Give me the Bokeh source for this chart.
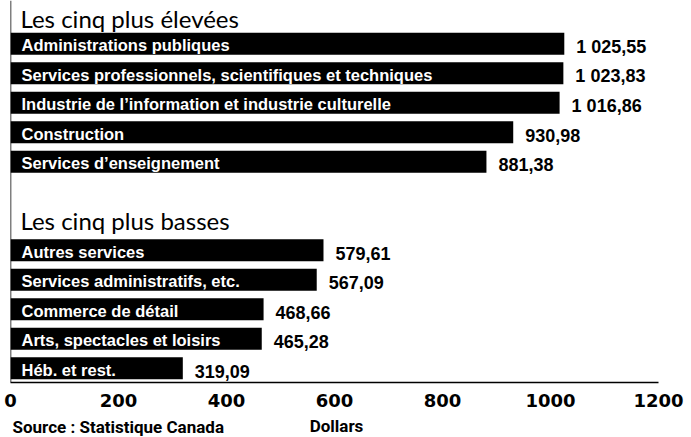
from bokeh.plotting import figure
from bokeh.layouts import column
from bokeh.models import Range1d, Span, FixedTicker, ColumnDataSource
from bokeh.core.properties import value
from bokeh.embed import file_html
from bokeh.resources import INLINE

# ---- data ----
top_cats = [
    "Administrations publiques",
    "Services professionnels, scientifiques et techniques",
    "Industrie de l\u2019information et industrie culturelle",
    "Construction",
    "Services d\u2019enseignement",
]
top_vals = [1025.55, 1023.83, 1016.86, 930.98, 881.38]

bottom_cats = [
    "Autres services",
    "Services administratifs, etc.",
    "Commerce de d\u00e9tail",
    "Arts, spectacles et loisirs",
    "H\u00e9b. et rest.",
]
bottom_vals = [579.61, 567.09, 468.66, 465.28, 319.09]

heading_top = "Les cinq plus \u00e9lev\u00e9es"
heading_bottom = "Les cinq plus basses"
x_ticks = [0, 200, 400, 600, 800, 1000, 1200]
x_min, x_max = 0, 1200
x_title = "Dollars"
source_text = "Source : Statistique Canada"


def fr(v):
    s = f"{v:,.2f}"
    return s.replace(",", " ").replace(".", ",")


# row layout (top group rows 1..5, bottom group rows 8..12)
rows_top = [1 + i for i in range(len(top_vals))]
rows_bottom = [8 + i for i in range(len(bottom_vals))]

cats = top_cats + bottom_cats
vals = top_vals + bottom_vals
rows = rows_top + rows_bottom
src = ColumnDataSource(dict(cat=cats, val=vals, row=rows, lab=[fr(v) for v in vals]))

W = 691
MAIN_H = 412
FOOT_H = 437 - MAIN_H
BL, BR = 10, 33
Y_TOP = -0.468
Y_BOT = 12.481

p = figure(width=W, height=MAIN_H, output_backend="svg", toolbar_location=None,
           x_range=Range1d(x_min, x_max), y_range=Range1d(Y_BOT, Y_TOP),
           min_border_left=BL, min_border_right=BR, min_border_top=0,
           min_border_bottom=MAIN_H - 382)
p.yaxis.visible = False
p.grid.visible = False
p.outline_line_color = None
p.background_fill_color = "white"
p.border_fill_color = "white"

xa = p.xaxis[0]
xa.ticker = FixedTicker(ticks=x_ticks)
xa.major_tick_out = 0
xa.major_tick_in = 0
xa.minor_tick_out = 0
xa.minor_tick_in = 0
xa.axis_line_color = "black"
xa.axis_line_width = 1.5
xa.major_label_standoff = 11
xa.major_label_text_font = "DejaVu Sans"
xa.major_label_text_font_style = "bold"
xa.major_label_text_font_size = "18px"
xa.major_label_text_color = "black"

p.add_layout(Span(location=0, dimension="height", line_color="black", line_width=1.5))

p.hbar(y="row", left=0, right="val", height=0.746, source=src,
       fill_color="black", line_color=None)

p.text(x=0, y="row", text="cat", source=src, x_offset=11, y_offset=1.2,
       text_baseline="alphabetic", text_align="left", text_color="white",
       text_font=value("Liberation Sans"), text_font_style="bold",
       text_font_size="16.5px")

p.text(x="val", y="row", text="lab", source=src, x_offset=12, y_offset=3,
       text_baseline="alphabetic", text_align="left", text_color="black",
       text_font=value("Liberation Sans"), text_font_style="bold",
       text_font_size="18px")

hsrc = ColumnDataSource(dict(x=[0, 0], y=[0.397, 7.264], t=[heading_top, heading_bottom]))
p.text(x="x", y="y", text="t", source=hsrc, x_offset=10, y_offset=-8,
       text_baseline="alphabetic", text_align="left", text_color="black",
       text_font=value("Lato"), text_font_size="24px")

# footer: source note and axis title on one line
f = figure(width=W, height=FOOT_H, output_backend="svg", toolbar_location=None,
           x_range=p.x_range, y_range=Range1d(FOOT_H, 0),
           min_border_left=BL, min_border_right=BR, min_border_top=0,
           min_border_bottom=0)
f.axis.visible = False
f.grid.visible = False
f.outline_line_color = None
f.background_fill_color = "white"
f.border_fill_color = "white"

fsrc = ColumnDataSource(dict(x=[x_min, (x_min + x_max) / 2], y=[20, 19],
                             t=[source_text, x_title], al=["left", "center"],
                             xo=[2, 2]))
f.text(x="x", y="y", text="t", source=fsrc, text_align="al", x_offset="xo", y_offset=-6,
       text_baseline="alphabetic", text_color="black",
       text_font=value("Roboto"), text_font_style="bold", text_font_size="17px")

layout = column(p, f, spacing=0)
open("out.html", "w").write(file_html(layout, INLINE))
